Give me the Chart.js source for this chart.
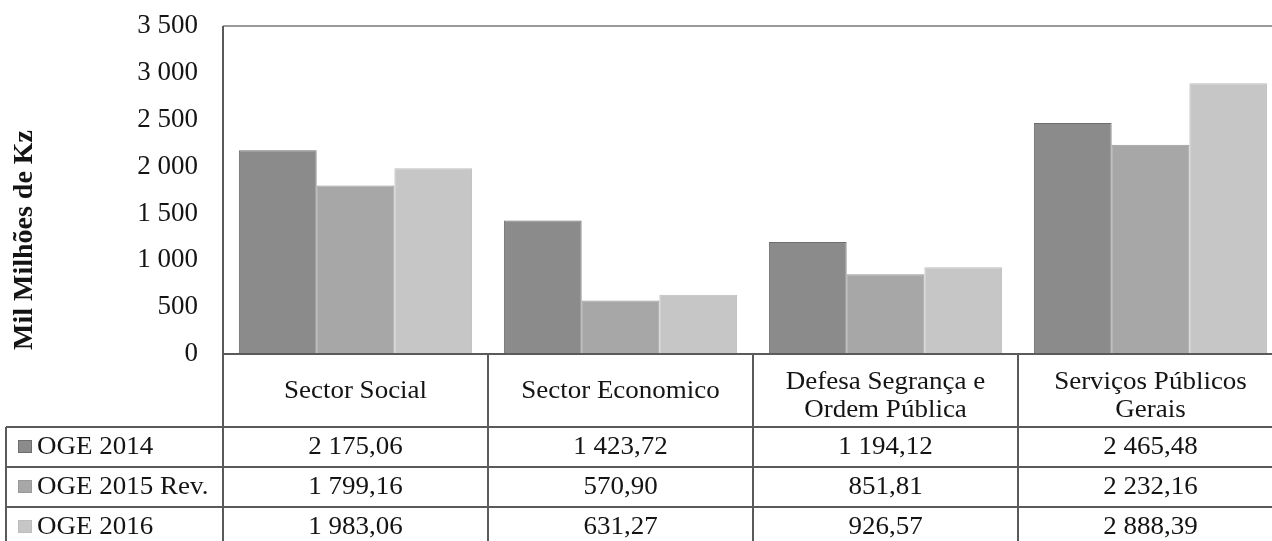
<!DOCTYPE html>
<html>
<head>
<meta charset="utf-8">
<script src="https://cdn.jsdelivr.net/npm/chart.js@4"></script>
<style>
  html, body { margin: 0; padding: 0; background: #fff; overflow: hidden; }
  #wrap { width: 1272px; height: 541px; overflow: hidden; }
</style>
</head>
<body>
<div id="wrap">
  <canvas id="ogeChart" width="1283" height="547"></canvas>
</div>
<script>
const categories = [
  ["Sector Social"],
  ["Sector Economico"],
  ["Defesa Segrança e", "Ordem Pública"],
  ["Serviços Públicos", "Gerais"],
];
const seriesNames = ["OGE 2014", "OGE 2015 Rev.", "OGE 2016"];
const oge2014 = [2175.06, 1423.72, 1194.12, 2465.48];
const oge2015 = [1799.16, 570.90, 851.81, 2232.16];
const oge2016 = [1983.06, 631.27, 926.57, 2888.39];
const yMin = 0;
const yMax = 3500;
const yStep = 500;
const yTitle = "Mil Milhões de Kz";

const fills = ["#8b8b8b", "#a7a7a7", "#c6c6c6"];
const edges = ["#6e6e6e", "#999999", "#bdbdbd"];
const serif = "'Liberation Serif', 'DejaVu Serif', serif";
const ink = "#141414";
const lineColor = "#5a5a5a";

function groupThousands(intPart) {
  return intPart.replace(/\B(?=(\d{3})+(?!\d))/g, " ");
}
function fmtValue(v) {
  const parts = v.toFixed(2).split(".");
  return groupThousands(parts[0]) + "," + parts[1];
}

const rowHeight = 40;
const headerHeight = 73;
const legendLeft = 6;

const tablePlugin = {
  id: "dataTable",
  afterDraw(chart) {
    const c = chart.ctx;
    const area = chart.chartArea;
    const xs = chart.scales.x;
    const colW = (area.right - area.left) / categories.length;
    const top = area.bottom;
    const headBottom = top + headerHeight;
    const tableBottom = headBottom + rowHeight * seriesNames.length;

    c.save();
    // frame top line
    c.strokeStyle = "#9a9a9a";
    c.lineWidth = 2;
    c.beginPath();
    c.moveTo(area.left, area.top);
    c.lineTo(area.right, area.top);
    c.stroke();

    c.strokeStyle = lineColor;
    c.lineWidth = 2;
    c.beginPath();
    // axis line / table top
    c.moveTo(area.left, top);
    c.lineTo(area.right, top);
    c.moveTo(area.left, area.top);
    c.lineTo(area.left, tableBottom);
    // row lines
    for (let r = 0; r <= seriesNames.length; r++) {
      const y = headBottom + r * rowHeight;
      c.moveTo(legendLeft, y);
      c.lineTo(area.right, y);
    }
    c.moveTo(legendLeft, headBottom);
    c.lineTo(legendLeft, tableBottom);
    for (let i = 1; i < categories.length; i++) {
      const x = area.left + i * colW;
      c.moveTo(x, top);
      c.lineTo(x, tableBottom);
    }
    c.stroke();

    const drawText = (txt, x, y, align) => {
      c.save();
      c.translate(x, y);
      c.scale(1.08, 1);
      c.textAlign = align;
      c.fillText(txt, 0, 0);
      c.restore();
    };

    c.fillStyle = ink;
    c.font = "25px " + serif;
    c.textBaseline = "middle";

    // header
    categories.forEach((lines, i) => {
      const cx = xs.getPixelForValue(i);
      const lh = 28;
      const cy = top + headerHeight / 2 + (lines.length > 1 ? 6 : 1);
      lines.forEach((ln, k) => {
        const y = cy + (k - (lines.length - 1) / 2) * lh;
        drawText(ln, cx, y, "center");
      });
    });

    // rows
    const allSeries = [oge2014, oge2015, oge2016];
    seriesNames.forEach((name, r) => {
      const cy = headBottom + r * rowHeight + rowHeight / 2;
      c.fillStyle = fills[r];
      c.fillRect(18, cy - 7, 14, 13);
      c.strokeStyle = edges[r];
      c.lineWidth = 1;
      c.strokeRect(18.5, cy - 6.5, 13, 12);
      c.fillStyle = ink;
      drawText(name, 37, cy, "left");
      allSeries[r].forEach((v, i) => {
        drawText(fmtValue(v), xs.getPixelForValue(i), cy, "center");
      });
    });

    // y axis title
    c.save();
    c.translate(25, 240);
    c.rotate(-Math.PI / 2);
    c.font = "bold 28px " + serif;
    c.textAlign = "center";
    c.textBaseline = "middle";
    c.fillText(yTitle, 0, 0);
    c.restore();

    c.restore();
  },
};

const ctx = document.getElementById("ogeChart").getContext("2d");
const ogeChart = new Chart(ctx, {
  type: "bar",
  data: {
    labels: categories.map((l) => l.join(" ")),
    datasets: [
      { label: seriesNames[0], data: oge2014, backgroundColor: fills[0], borderColor: edges[0], borderWidth: 1 },
      { label: seriesNames[1], data: oge2015, backgroundColor: fills[1], borderColor: edges[1], borderWidth: 1 },
      { label: seriesNames[2], data: oge2016, backgroundColor: fills[2], borderColor: edges[2], borderWidth: 1 },
    ],
  },
  options: {
    responsive: false,
    animation: false,
    devicePixelRatio: 1,
    categoryPercentage: 0.88,
    barPercentage: 1,
    layout: {
      padding: { top: 26, left: 0, right: 0, bottom: 193 },
    },
    scales: {
      x: {
        display: false,
      },
      y: {
        min: yMin,
        max: yMax,
        afterFit: function (scale) {
          scale.width = 223;
          scale.paddingTop = 0;
          scale.paddingBottom = 0;
        },
        ticks: {
          stepSize: yStep,
          padding: 25,
          color: ink,
          font: { family: serif, size: 27 },
          callback: function (value) {
            return groupThousands(String(value));
          },
        },
        grid: {
          display: false,
          drawTicks: false,
        },
        border: {
          display: false,
        },
      },
    },
    plugins: {
      legend: { display: false },
      tooltip: { enabled: false },
    },
  },
  plugins: [tablePlugin],
});
</script>
</body>
</html>
